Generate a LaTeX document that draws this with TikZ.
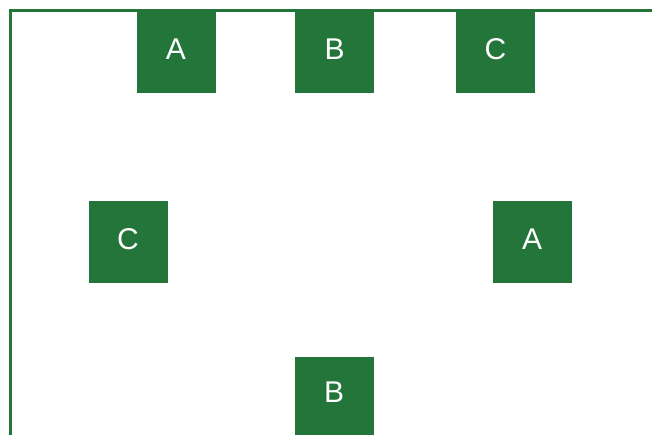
\documentclass[tikz,border=0pt]{standalone}
\usepackage{fontspec}
\setmainfont{Liberation Sans}
\definecolor{boxgreen}{RGB}{36,117,57}
\begin{document}
\begin{tikzpicture}[x=1pt,y=-1pt,
  sq/.style={fill=boxgreen, draw=none, text=white, minimum width=79pt, minimum height=82pt, inner sep=0pt, font=\fontsize{30}{30}\selectfont},
  lbl/.style={text=white, inner sep=0pt, font=\fontsize{30}{30}\selectfont, yshift=2.5pt},
  frameline/.style={draw=boxgreen, line width=3pt}]
\useasboundingbox (0,0) rectangle (652,434);
\clip (0,0) rectangle (652,434);
\fill[white] (0,0) rectangle (652,434);
\coordinate (fb) at (10,436);
\coordinate (fc) at (10,10);
\coordinate (fr) at (654,10);
\node[sq] (a1) at (176,51.5) {};
\node[sq] (b1) at (334.5,51.5) {};
\node[sq] (c1) at (495.5,51.5) {};
\node[sq] (c2) at (128,241.5) {};
\node[sq] (a2) at (532,241.5) {};
\node[sq] (b2) at (334,397.5) {};
\node[lbl] (ta1) at (a1) {A};
\node[lbl] (tb1) at (b1) {B};
\node[lbl] (tc1) at (c1) {C};
\node[lbl] (tc2) at (c2) {C};
\node[lbl] (ta2) at (a2) {A};
\node[lbl] (tb2) at ([yshift=3pt]b2) {B};
\draw[frameline] (fb) -- (fc) -- (fr);
\end{tikzpicture}
\end{document}
